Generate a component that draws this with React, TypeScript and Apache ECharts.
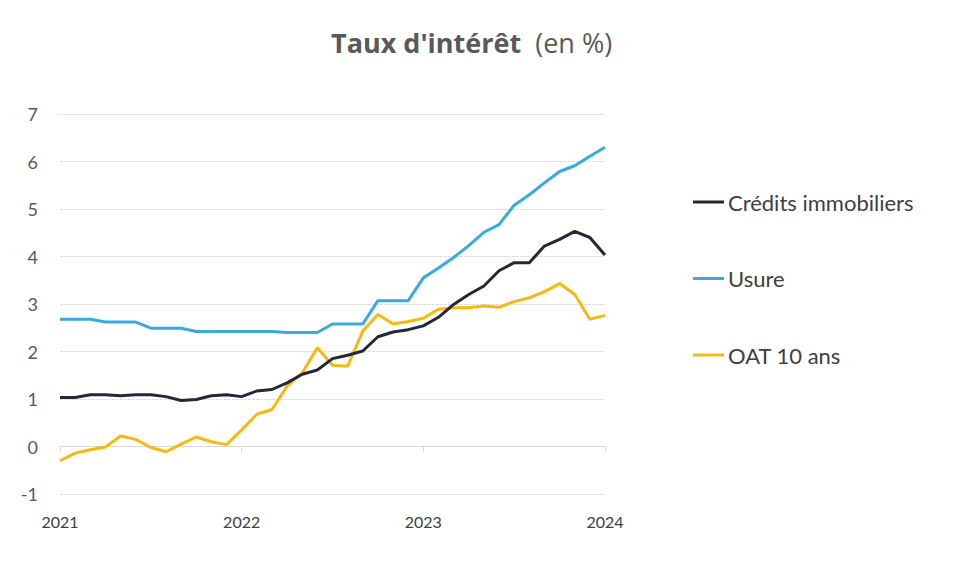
import React, { useEffect, useRef } from "react";
import * as echarts from "echarts";

const months = [
  "2021-01","2021-02","2021-03","2021-04","2021-05","2021-06","2021-07","2021-08","2021-09","2021-10","2021-11","2021-12",
  "2022-01","2022-02","2022-03","2022-04","2022-05","2022-06","2022-07","2022-08","2022-09","2022-10","2022-11","2022-12",
  "2023-01","2023-02","2023-03","2023-04","2023-05","2023-06","2023-07","2023-08","2023-09","2023-10","2023-11","2023-12",
  "2024-01",
];

const credits = [
  1.03, 1.03, 1.09, 1.09, 1.07, 1.09, 1.09, 1.05, 0.97, 0.99, 1.07, 1.09,
  1.05, 1.17, 1.20, 1.34, 1.52, 1.61, 1.85, 1.92, 2.01, 2.31, 2.41, 2.46,
  2.54, 2.72, 2.99, 3.20, 3.38, 3.70, 3.87, 3.87, 4.22, 4.36, 4.53, 4.40,
  4.03,
];

const usure = [
  2.68, 2.68, 2.68, 2.62, 2.62, 2.62, 2.49, 2.49, 2.49, 2.42, 2.42, 2.42,
  2.42, 2.42, 2.42, 2.40, 2.40, 2.40, 2.58, 2.58, 2.58, 3.07, 3.07, 3.07,
  3.55, 3.76, 3.98, 4.23, 4.51, 4.67, 5.08, 5.30, 5.55, 5.79, 5.91, 6.11,
  6.30,
];

const oat = [
  -0.30, -0.14, -0.07, -0.01, 0.22, 0.15, -0.02, -0.11, 0.05, 0.20, 0.10, 0.04,
  0.35, 0.68, 0.78, 1.27, 1.55, 2.08, 1.71, 1.69, 2.43, 2.78, 2.58, 2.63,
  2.70, 2.89, 2.92, 2.92, 2.96, 2.93, 3.05, 3.13, 3.26, 3.43, 3.20, 2.68,
  2.76,
];

const seriesNames = ["Crédits immobiliers", "Usure", "OAT 10 ans"];
const seriesColors = ["#232738", "#3aa9de", "#f6b912"];
const yTicks = { min: -1, max: 7, interval: 1 };

export default function App() {
  const ref = useRef<HTMLDivElement>(null);

  useEffect(() => {
    if (!ref.current) return;
    const chart = echarts.init(ref.current, undefined, { renderer: "svg" });
    const yearTick = (i: number) => i % 12 === 0;
    const values = [credits, usure, oat];
    chart.setOption({
      animation: false,
      backgroundColor: "#ffffff",
      title: {
        text: "{b|Taux d'intérêt}{n|  (en %)}",
        left: 326,
        top: 24,
        textStyle: {
          rich: {
            b: { fontFamily: "Open Sans", fontWeight: "bold", fontSize: 27, color: "#595959" },
            n: { fontFamily: "Open Sans", fontWeight: "normal", fontSize: 27, color: "#595959" },
          },
        },
      },
      legend: {
        orient: "vertical",
        left: 688,
        top: 186,
        itemWidth: 31,
        itemHeight: 3,
        itemGap: 54.5,
        icon: "rect",
        textStyle: { fontFamily: "Lato", fontSize: 22, color: "#404040", padding: [0, 0, 0, -1] },
        data: seriesNames,
      },
      grid: { left: 60, right: 360, top: 114, bottom: 72, containLabel: false },
      xAxis: [
        {
          type: "category",
          data: months,
          boundaryGap: false,
          position: "bottom",
          axisLine: { show: false, onZero: false },
          axisTick: { show: false },
          axisLabel: {
            interval: (i: number) => yearTick(i),
            formatter: (v: string) => v.slice(0, 4),
            fontFamily: "Lato",
            fontSize: 16,
            color: "#404040",
            margin: 19,
          },
          splitLine: { show: false },
        },
        {
          type: "category",
          data: months,
          boundaryGap: false,
          position: "bottom",
          axisLine: { show: true, onZero: true, lineStyle: { color: "#d9d9d9", width: 1 } },
          axisTick: { show: true, interval: (i: number) => yearTick(i), length: 5, inside: false, lineStyle: { color: "#d9d9d9" } },
          axisLabel: { show: false },
          splitLine: { show: false },
        },
      ],
      yAxis: {
        type: "value",
        min: yTicks.min,
        max: yTicks.max,
        interval: yTicks.interval,
        axisLine: { show: false },
        axisTick: { show: false },
        axisLabel: { fontFamily: "Lato", fontSize: 18, color: "#595959", margin: 22, align: "right" },
        splitLine: { lineStyle: { color: "#dcdcdc", type: [3, 1], width: 1 } },
      },
      series: seriesNames.map((name, i) => ({
        name,
        type: "line",
        xAxisIndex: 0,
        data: values[i],
        symbol: "none",
        lineStyle: { width: 3, color: seriesColors[i] },
        itemStyle: { color: seriesColors[i] },
        z: i === 0 ? 4 : i === 1 ? 3 : 2,
      })),
    });
    return () => chart.dispose();
  }, []);

  return <div ref={ref} style={{ width: 965, height: 566, position: "absolute", left: 0, top: 0 }} />;
}
